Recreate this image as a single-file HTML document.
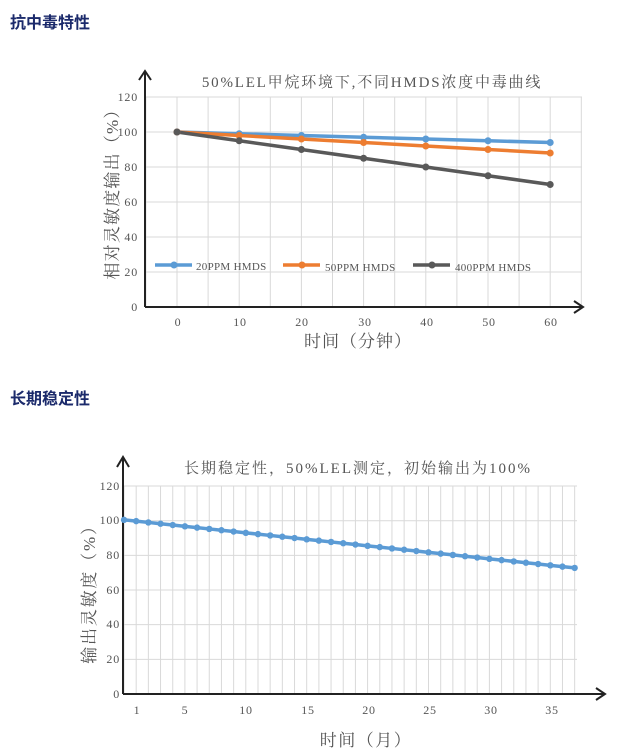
<!DOCTYPE html>
<html><head><meta charset="utf-8"><style>
html,body{margin:0;padding:0;background:#fff;width:619px;height:755px;overflow:hidden}
svg text{font-family:"Liberation Serif","Noto Serif CJK SC",serif;fill:#555}
.h{position:absolute;left:10px;font:bold 16px "Liberation Sans","Noto Sans CJK SC",sans-serif;color:#1b2a6b}
</style></head><body>
<div class="h" style="top:9px">抗中毒特性</div>
<div class="h" style="top:385px">长期稳定性</div>
<svg id="s" width="619" height="755" style="position:absolute;left:0;top:0">
<g id="g1" stroke="#d9d9d9" stroke-width="1"></g>
<g id="g2" stroke="#d9d9d9" stroke-width="1"></g>
<line x1="145" y1="72" x2="145" y2="307" stroke="#222" stroke-width="2"/>
<polyline points="139,80 145,71 151,80" fill="none" stroke="#222" stroke-width="2"/>
<line x1="145" y1="307" x2="582" y2="307" stroke="#222" stroke-width="2"/>
<polyline points="574,301 583,307 574,313" fill="none" stroke="#222" stroke-width="2"/>
<text x="372" y="87" font-size="15" letter-spacing="1.8" text-anchor="middle" fill="#444">50%LEL甲烷环境下,不同HMDS浓度中毒曲线</text>
<g font-size="12" letter-spacing="0.8" text-anchor="end">
<text x="138" y="101">120</text><text x="138" y="136">100</text><text x="138" y="171">80</text>
<text x="138" y="206">60</text><text x="138" y="241">40</text><text x="138" y="276">20</text><text x="138" y="311">0</text>
</g>
<g font-size="12" letter-spacing="0.8" text-anchor="middle">
<text x="178" y="326">0</text><text x="240" y="326">10</text><text x="302" y="326">20</text><text x="365" y="326">30</text>
<text x="427" y="326">40</text><text x="489" y="326">50</text><text x="551" y="326">60</text>
</g>
<text x="358" y="347" font-size="17" letter-spacing="1" text-anchor="middle" fill="#444">时间（分钟）</text>
<text transform="translate(118,190) rotate(-90)" font-size="17" letter-spacing="1.2" text-anchor="middle" fill="#444">相对灵敏度输出（%）</text>
<g fill="none" stroke-width="3.5">
<polyline stroke="#5b9bd5" points="177,132 239.2,133.75 301.4,135.5 363.6,137.25 425.8,139 488,140.75 550.2,142.5"/>
<polyline stroke="#ed7d31" points="177,132 239.2,135.5 301.4,139 363.6,142.5 425.8,146 488,149.5 550.2,153"/>
<polyline stroke="#595959" points="177,132 239.2,140.75 301.4,149.5 363.6,158.25 425.8,167 488,175.75 550.2,184.5"/>
<line x1="155" y1="265" x2="192" y2="265" stroke="#5b9bd5"/>
<line x1="283" y1="265" x2="320" y2="265" stroke="#ed7d31"/>
<line x1="413" y1="265" x2="450" y2="265" stroke="#595959"/>
</g>
<g id="d1"></g>
<g font-size="11" letter-spacing="0.3">
<text x="196" y="270">20PPM HMDS</text><text x="325" y="271">50PPM HMDS</text><text x="455" y="271">400PPM HMDS</text>
</g>
<line x1="123" y1="458" x2="123" y2="694" stroke="#222" stroke-width="2"/>
<polyline points="117,467 123,457 129,467" fill="none" stroke="#222" stroke-width="2"/>
<line x1="123" y1="694" x2="604" y2="694" stroke="#222" stroke-width="2"/>
<polyline points="596,688 605,694 596,700" fill="none" stroke="#222" stroke-width="2"/>
<text x="358" y="473" font-size="15" letter-spacing="2" text-anchor="middle" fill="#444">长期稳定性，50%LEL测定，初始输出为100%</text>
<g font-size="12" letter-spacing="0.8" text-anchor="end">
<text x="120" y="490">120</text><text x="120" y="524">100</text><text x="120" y="559">80</text>
<text x="120" y="594">60</text><text x="120" y="628">40</text><text x="120" y="663">20</text><text x="120" y="698">0</text>
</g>
<g font-size="12" letter-spacing="0.8" text-anchor="middle">
<text x="137" y="714">1</text><text x="185" y="714">5</text><text x="246" y="714">10</text><text x="308" y="714">15</text>
<text x="369" y="714">20</text><text x="430" y="714">25</text><text x="491" y="714">30</text><text x="552" y="714">35</text>
</g>
<text x="366" y="746" font-size="17" letter-spacing="1.5" text-anchor="middle" fill="#444">时间（月）</text>
<text transform="translate(95,590) rotate(-90)" font-size="17" letter-spacing="1.8" text-anchor="middle" fill="#444">输出灵敏度（%）</text>
<polyline id="p2" fill="none" stroke="#5b9bd5" stroke-width="3.5"/>
<g id="d2" fill="#5b9bd5"></g>
</svg>
<script>
var N="http://www.w3.org/2000/svg";
function el(p,t,a){var e=document.createElementNS(N,t);for(var k in a)e.setAttribute(k,a[k]);p.appendChild(e);return e;}
var g1=document.getElementById('g1');
for(var v=-5;v<=65;v+=5){var x=177+v*6.22;el(g1,'line',{x1:x,y1:97,x2:x,y2:307});}
for(var y=20;y<=120;y+=20){var yy=307-y*1.75;el(g1,'line',{x1:145,y1:yy,x2:582,y2:yy});}
var d1=document.getElementById('d1');
var S=[[100,99,98,97,96,95,94,'#5b9bd5'],[100,98,96,94,92,90,88,'#ed7d31'],[100,95,90,85,80,75,70,'#595959']];
S.forEach(function(s){for(var i=0;i<7;i++)el(d1,'circle',{cx:177+i*62.2,cy:307-s[i]*1.75,r:3.5,fill:s[7]});});
[[174,'#5b9bd5'],[302,'#ed7d31'],[432,'#595959']].forEach(function(a){el(d1,'circle',{cx:a[0],cy:265,r:3.5,fill:a[1]});});
var g2=document.getElementById('g2');
for(var m=0;m<=37;m++){var x=124+m*12.18;el(g2,'line',{x1:x,y1:486,x2:x,y2:694});}
for(var y=20;y<=120;y+=20){var yy=694-y*1.733;el(g2,'line',{x1:123,y1:yy,x2:577,y2:yy});}
var pts=[],d2=document.getElementById('d2');
for(var m=0;m<=37;m++){var x=124+m*12.18,yy=694-(100.5-0.75*m)*1.733;pts.push(x+','+yy);el(d2,'circle',{cx:x,cy:yy,r:3.2});}
document.getElementById('p2').setAttribute('points',pts.join(' '));
</script>
</body></html>
